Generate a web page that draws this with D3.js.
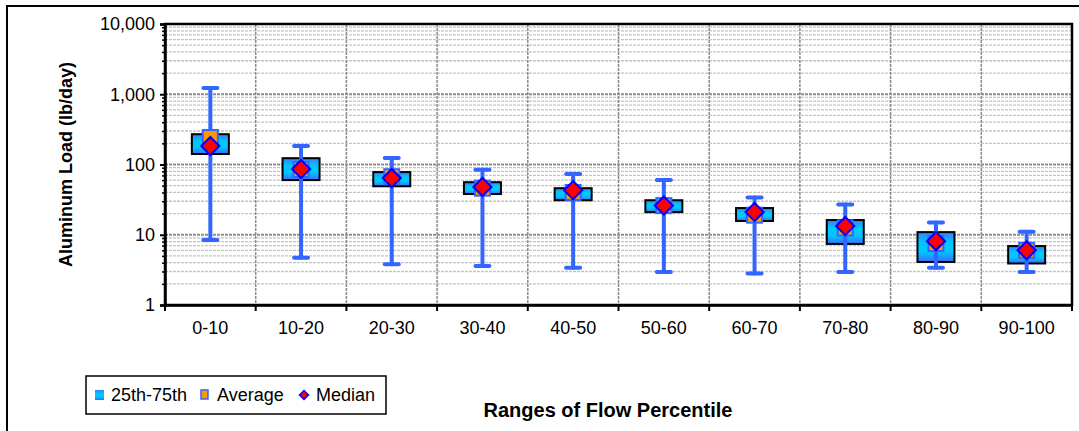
<!DOCTYPE html>
<html>
<head>
<meta charset="utf-8">
<script src="https://cdn.jsdelivr.net/npm/d3@7"></script>
<style>
body { margin: 0; background: #fff; }
text { font-family: Arial, "Liberation Sans", sans-serif; fill: #000; }
</style>
</head>
<body>
<div id="chart"></div>
<script>
// data
var categories = ["0-10", "10-20", "20-30", "30-40", "40-50", "50-60", "60-70", "70-80", "80-90", "90-100"]
var maxValues = [1230, 183, 124, 84, 73, 60, 34, 27, 15, 11]
var minValues = [8.4, 4.7, 3.8, 3.6, 3.4, 2.95, 2.8, 2.95, 3.4, 2.95]
var p75Values = [270, 123, 78, 56, 46, 31, 24, 16.2, 10.9, 6.9]
var p25Values = [141, 60, 49, 38, 31, 21, 15.7, 7.4, 4.1, 3.9]
var avgValues = [242, 85, 67, 46, 40, 26, 19, 12.5, 7.5, 6]
var medianValues = [183, 86, 64, 48, 43, 26, 21, 13.3, 8.1, 6.0]
var majorTicks = [1, 10, 100, 1000, 10000]

var width = 1079
var height = 431
var plotL = 165, plotR = 1072, plotT = 24, plotB = 305

var rows = categories.map(function(c, i) {
    return {cat: c, max: maxValues[i], min: minValues[i], q3: p75Values[i],
        q1: p25Values[i], avg: avgValues[i], med: medianValues[i]}
})

var svg = d3.select("#chart").append("svg")
    .attr("width", width)
    .attr("height", height)

var defs = svg.append("defs")
var grad = defs.append("linearGradient").attr("id", "boxfill")
    .attr("x1", 0).attr("y1", 0).attr("x2", 0).attr("y2", 1)
grad.append("stop").attr("offset", "0%").attr("stop-color", "#3a7cff")
grad.append("stop").attr("offset", "35%").attr("stop-color", "#00c8ff")
grad.append("stop").attr("offset", "65%").attr("stop-color", "#00c8ff")
grad.append("stop").attr("offset", "100%").attr("stop-color", "#3a6cff")

// outer frame
svg.append("rect")
    .attr("x", 7).attr("y", 6)
    .attr("width", 1090).attr("height", 450)
    .attr("fill", "none").attr("stroke", "#000").attr("stroke-width", 2)

var x = d3.scaleBand().domain(categories).range([plotL, plotR])
var y = d3.scaleLog().domain([1, 10000]).range([plotB, plotT])

var allTicks = y.ticks()
function isMajor(d) { return Math.abs(Math.log10(d) - Math.round(Math.log10(d))) < 1e-9 }

// horizontal gridlines
svg.append("g").selectAll("line")
    .data(allTicks.filter(function(d) { return d > 1 && d < 10000 }))
    .join("line")
    .attr("x1", plotL).attr("x2", plotR)
    .attr("y1", function(d) { return y(d) }).attr("y2", function(d) { return y(d) })
    .attr("stroke", function(d) { return isMajor(d) ? "#8c8c8c" : "#c4c4c4" })
    .attr("stroke-width", function(d) { return isMajor(d) ? 2 : 1.3 })
    .attr("stroke-dasharray", "3,1")

// vertical gridlines at category boundaries
svg.append("g").selectAll("line")
    .data(categories.slice(1))
    .join("line")
    .attr("x1", function(d) { return x(d) }).attr("x2", function(d) { return x(d) })
    .attr("y1", plotT).attr("y2", plotB)
    .attr("stroke", "#8c8c8c").attr("stroke-width", 1.5)
    .attr("stroke-dasharray", "3,1")

// plot border
svg.append("rect")
    .attr("x", plotL).attr("y", plotT)
    .attr("width", plotR - plotL).attr("height", plotB - plotT)
    .attr("fill", "none").attr("stroke", "#000").attr("stroke-width", 2.5)

// y axis
var yAxis = svg.append("g")
    .attr("transform", "translate(" + plotL + ",0)")
    .call(d3.axisLeft(y).tickValues(majorTicks).tickFormat(d3.format(",")).tickSize(5).tickPadding(5))
yAxis.select(".domain").attr("stroke-width", 2.5)
yAxis.selectAll(".tick line").attr("stroke-width", 2)
yAxis.selectAll("text").style("font-size", "18px")

svg.append("g")
    .attr("transform", "translate(" + plotL + ",0)")
    .call(d3.axisLeft(y).tickValues(allTicks.filter(function(d) { return !isMajor(d) })).tickFormat("").tickSize(3))
    .call(function(g) { g.select(".domain").remove() })
    .selectAll(".tick line").attr("stroke-width", 1.5)

// x axis
var xAxis = svg.append("g")
    .attr("transform", "translate(0," + plotB + ")")
    .call(d3.axisBottom(x).tickSize(0).tickPadding(16))
xAxis.select(".domain").attr("stroke-width", 2.5)
xAxis.selectAll("text").style("font-size", "18px")

svg.append("g").selectAll("line")
    .data(categories.concat(["end"]))
    .join("line")
    .attr("x1", function(d) { return d === "end" ? plotR : x(d) })
    .attr("x2", function(d) { return d === "end" ? plotR : x(d) })
    .attr("y1", plotB).attr("y2", plotB + 6)
    .attr("stroke", "#000").attr("stroke-width", 2)

// boxes
var cx = function(d) { return x(d.cat) + x.bandwidth() / 2 }
var boxW = 37

svg.append("g").selectAll("rect")
    .data(rows)
    .join("rect")
    .attr("x", function(d) { return cx(d) - boxW / 2 })
    .attr("y", function(d) { return y(d.q3) })
    .attr("width", boxW)
    .attr("height", function(d) { return y(d.q1) - y(d.q3) })
    .attr("fill", "url(#boxfill)")
    .attr("stroke", "#000").attr("stroke-width", 2)

// whiskers
var wh = svg.append("g")
    .attr("stroke", "#3366ff").attr("stroke-width", 4).attr("stroke-linecap", "round")
wh.selectAll("line.stem").data(rows).join("line").attr("class", "stem")
    .attr("x1", cx).attr("x2", cx)
    .attr("y1", function(d) { return y(d.max) }).attr("y2", function(d) { return y(d.min) })
wh.selectAll("line.capt").data(rows).join("line").attr("class", "capt")
    .attr("x1", function(d) { return cx(d) - 7 }).attr("x2", function(d) { return cx(d) + 7 })
    .attr("y1", function(d) { return y(d.max) }).attr("y2", function(d) { return y(d.max) })
wh.selectAll("line.capb").data(rows).join("line").attr("class", "capb")
    .attr("x1", function(d) { return cx(d) - 7 }).attr("x2", function(d) { return cx(d) + 7 })
    .attr("y1", function(d) { return y(d.min) }).attr("y2", function(d) { return y(d.min) })

// average squares
svg.append("g").selectAll("rect")
    .data(rows)
    .join("rect")
    .attr("x", function(d) { return cx(d) - 7.5 })
    .attr("y", function(d) { return y(d.avg) - 7.5 })
    .attr("width", 15).attr("height", 15)
    .attr("fill", "#ff9900")
    .attr("stroke", "#3366ff").attr("stroke-width", 2)

// median diamonds
var diamond = d3.symbol().type(d3.symbolSquare).size(165)
svg.append("g").selectAll("path")
    .data(rows)
    .join("path")
    .attr("d", diamond)
    .attr("transform", function(d) { return "translate(" + cx(d) + "," + y(d.med) + ") rotate(45)" })
    .attr("fill", "#ff0000")
    .attr("stroke", "#0000ff").attr("stroke-width", 2)

// axis titles
svg.append("text")
    .attr("transform", "translate(72," + ((plotT + plotB) / 2) + ") rotate(-90)")
    .attr("text-anchor", "middle")
    .style("font-size", "18px").style("font-weight", "bold")
    .text("Aluminum Load (lb/day)")

svg.append("text")
    .attr("x", 608).attr("y", 417)
    .attr("text-anchor", "middle")
    .style("font-size", "20px").style("font-weight", "bold")
    .text("Ranges of Flow Percentile")

// legend
svg.append("rect")
    .attr("x", 86).attr("y", 376).attr("width", 300).attr("height", 38)
    .attr("fill", "#fff").attr("stroke", "#000").attr("stroke-width", 1.5)
var legend = svg.append("g")
var legendItems = ["25th-75th", "Average", "Median"]
var legendX = [95, 201, 300]
var ly = 395
legend.append("rect").attr("x", legendX[0]).attr("y", ly - 5).attr("width", 9).attr("height", 10)
    .attr("fill", "url(#boxfill)")
legend.append("rect").attr("x", legendX[1]).attr("y", ly - 5).attr("width", 7).attr("height", 9)
    .attr("fill", "#ff9900").attr("stroke", "#3366ff").attr("stroke-width", 1.5)
legend.append("path").attr("d", d3.symbol().type(d3.symbolSquare).size(40))
    .attr("transform", "translate(" + (legendX[2] + 4) + "," + ly + ") rotate(45)")
    .attr("fill", "#ff0000").attr("stroke", "#0000ff").attr("stroke-width", 1.5)
legend.selectAll("text")
    .data(legendItems)
    .join("text")
    .attr("x", function(d, i) { return legendX[i] + 16 })
    .attr("y", ly)
    .attr("dy", "0.35em")
    .style("font-size", "18px")
    .text(function(d) { return d })
</script>
</body>
</html>
